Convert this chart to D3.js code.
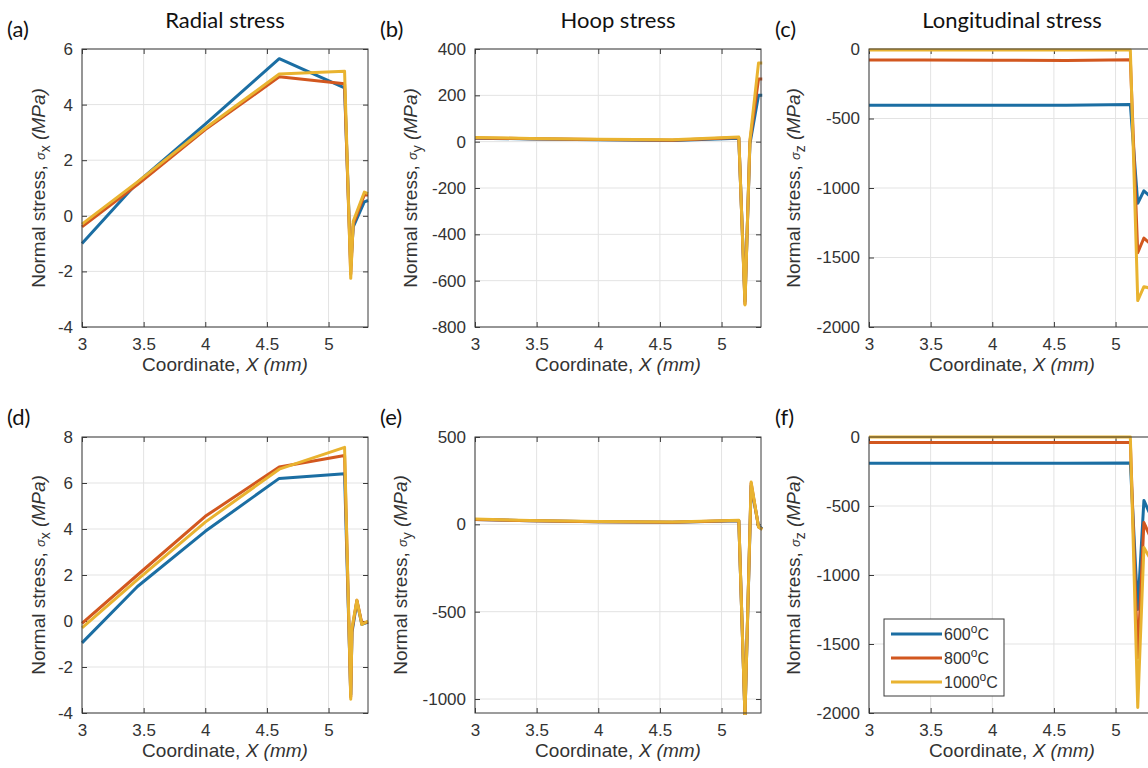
<!DOCTYPE html>
<html>
<head>
<meta charset="utf-8">
<script src="https://cdn.jsdelivr.net/npm/d3@7"></script>
<style>
body { margin: 0; background: #fff; }
svg { display: block; }
</style>
</head>
<body>
<div class="main"></div>
<script>
var xTicks = [3, 3.5, 4, 4.5, 5];
var tempLabels = ["600", "800", "1000"];

// (a) radial stress, case 1
var xA = [3, 3.45, 4.0, 4.6, 5.13, 5.18, 5.2, 5.29, 5.32];
var a600 = [-1.0, 1.2, 3.3, 5.65, 4.6, -1.8, -0.4, 0.5, 0.55];
var a800 = [-0.4, 1.12, 3.1, 5.0, 4.75, -2.1, -0.3, 0.75, 0.75];
var a1000 = [-0.3, 1.22, 3.15, 5.1, 5.2, -2.25, -0.2, 0.85, 0.8];

// (b) hoop stress, case 1
var xB = [3, 3.45, 4.0, 4.6, 5.14, 5.19, 5.23, 5.30, 5.33];
var b600 = [15, 12, 8, 5, 15, -690, -10, 200, 200];
var b800 = [16, 13, 9, 6, 18, -700, 0, 270, 270];
var b1000 = [18, 14, 10, 8, 20, -705, 5, 340, 340];

// (c) longitudinal stress, case 1
var xC = [3, 3.45, 4.0, 4.6, 5.12, 5.18, 5.23, 5.28, 5.32];
var c600 = [-405, -405, -405, -405, -400, -1110, -1020, -1060, -1050];
var c800 = [-80, -80, -81, -82, -78, -1465, -1360, -1400, -1390];
var c1000 = [-8, -8, -8, -8, -8, -1810, -1710, -1720, -1715];

// (d) radial stress, case 2
var xD = [3, 3.45, 4.0, 4.6, 5.13, 5.18, 5.19, 5.23, 5.27, 5.32];
var d600 = [-0.95, 1.5, 3.9, 6.2, 6.4, -3.2, -0.5, 0.85, -0.15, -0.05];
var d800 = [-0.1, 2.0, 4.55, 6.7, 7.2, -3.3, -0.4, 0.9, -0.1, -0.05];
var d1000 = [-0.3, 1.8, 4.3, 6.6, 7.55, -3.4, -0.3, 0.9, -0.15, 0.0];

// (e) hoop stress, case 2
var xE = [3, 3.45, 4.0, 4.6, 5.14, 5.19, 5.24, 5.30, 5.33];
var e600 = [28, 20, 15, 12, 20, -1100, 220, -10, -25];
var e800 = [28, 20, 15, 12, 22, -1100, 235, -15, -28];
var e1000 = [30, 22, 16, 14, 24, -1100, 242, -15, -30];

// (f) longitudinal stress, case 2
var xF = [3, 3.45, 4.0, 4.6, 5.12, 5.18, 5.23, 5.28, 5.32];
var f600 = [-190, -190, -190, -190, -188, -1250, -460, -560, -600];
var f800 = [-40, -40, -40, -40, -40, -1600, -620, -720, -760];
var f1000 = [0, 0, 0, 0, 0, -1960, -800, -880, -900];

var colors = ["#1b6ea3", "#d2571f", "#e9b330"];
var plotW = 286;

var panels = [
    { tag: "(a)", title: "Radial stress", left: 82, top: 49, h: 278, yDomain: [-4, 6], yTicks: [-4, -2, 0, 2, 4, 6], sub: "x", labelX: 45, tagX: 7, xs: xA, series: [a600, a800, a1000] },
    { tag: "(b)", title: "Hoop stress", left: 475, top: 49, h: 278, yDomain: [-800, 400], yTicks: [-800, -600, -400, -200, 0, 200, 400], sub: "y", labelX: 417, tagX: 380, xs: xB, series: [b600, b800, b1000] },
    { tag: "(c)", title: "Longitudinal stress", left: 869, top: 49, h: 278, yDomain: [-2000, 0], yTicks: [-2000, -1500, -1000, -500, 0], sub: "z", labelX: 800, tagX: 775, xs: xC, series: [c600, c800, c1000] },
    { tag: "(d)", title: "", left: 82, top: 437, h: 276, yDomain: [-4, 8], yTicks: [-4, -2, 0, 2, 4, 6, 8], sub: "x", labelX: 45, tagX: 7, xs: xD, series: [d600, d800, d1000] },
    { tag: "(e)", title: "", left: 475, top: 437, h: 276, yDomain: [-1080, 500], yTicks: [-1000, -500, 0, 500], sub: "y", labelX: 407, tagX: 380, xs: xE, series: [e600, e800, e1000] },
    { tag: "(f)", title: "", left: 869, top: 437, h: 276, yDomain: [-2000, 0], yTicks: [-2000, -1500, -1000, -500, 0], sub: "z", labelX: 800, tagX: 775, xs: xF, series: [f600, f800, f1000], legend: true }
];

var svg = d3.select(".main")
    .append("svg")
        .attr("width", 1148)
        .attr("height", 768);

var axisFont = "'Liberation Sans', Arial, sans-serif";
var titleFont = "Lato, 'Open Sans', sans-serif";
var fmt = d => String(d);

panels.forEach((p, k) => {
    let x = d3.scaleLinear().domain([3, 5.32]).range([p.left, p.left + plotW]);
    let y = d3.scaleLinear().domain(p.yDomain).range([p.top + p.h, p.top]);
    let g = svg.append("g");

    // grid
    g.selectAll(".gx").data(xTicks).enter().append("line")
        .attr("x1", d => x(d)).attr("x2", d => x(d))
        .attr("y1", p.top).attr("y2", p.top + p.h)
        .attr("stroke", "#e3e3e3").attr("stroke-width", 1);
    g.selectAll(".gy").data(p.yTicks).enter().append("line")
        .attr("x1", p.left).attr("x2", p.left + plotW)
        .attr("y1", d => y(d)).attr("y2", d => y(d))
        .attr("stroke", "#e3e3e3").attr("stroke-width", 1);

    // axes, ticks pointing inward
    let bottom = g.append("g")
        .attr("transform", "translate(0," + (p.top + p.h) + ")")
        .call(d3.axisBottom(x).tickValues(xTicks).tickFormat(fmt).tickSizeInner(-5).tickSizeOuter(0).tickPadding(11));
    let top = g.append("g")
        .attr("transform", "translate(0," + p.top + ")")
        .call(d3.axisTop(x).tickValues(xTicks).tickFormat("").tickSizeInner(-5).tickSizeOuter(0));
    let left = g.append("g")
        .attr("transform", "translate(" + p.left + ",0)")
        .call(d3.axisLeft(y).tickValues(p.yTicks).tickFormat(fmt).tickSizeInner(-5).tickSizeOuter(0).tickPadding(9));
    let right = g.append("g")
        .attr("transform", "translate(" + (p.left + plotW) + ",0)")
        .call(d3.axisRight(y).tickValues(p.yTicks).tickFormat("").tickSizeInner(-5).tickSizeOuter(0));
    [bottom, top, left, right].forEach(a => {
        a.select(".domain").remove();
        a.selectAll(".tick line").attr("stroke", "#3a3a3a");
        a.selectAll("text").attr("fill", "#333").style("font-family", axisFont).style("font-size", "17px");
    });

    // lines
    let clipId = "clip" + k;
    svg.append("clipPath").attr("id", clipId)
        .append("rect")
            .attr("x", p.left - 2).attr("y", p.top - 2)
            .attr("width", plotW + 4).attr("height", p.h + 4);
    let line = d3.line().x((d, i) => x(p.xs[i])).y(d => y(d));
    g.append("g").attr("clip-path", "url(#" + clipId + ")")
        .selectAll("path")
        .data(p.series)
        .enter()
        .append("path")
            .attr("d", d => line(d))
            .attr("fill", "none")
            .attr("stroke", (d, i) => colors[i])
            .attr("stroke-width", 3)
            .attr("stroke-linejoin", "round");

    // box
    g.append("rect")
        .attr("x", p.left).attr("y", p.top)
        .attr("width", plotW).attr("height", p.h)
        .attr("fill", "none").attr("stroke", "#3a3a3a").attr("stroke-width", 1);

    // x label
    let xl = g.append("text")
        .attr("x", p.left + plotW / 2).attr("y", p.top + p.h + 44)
        .attr("text-anchor", "middle")
        .attr("fill", "#333")
        .style("font-family", axisFont).style("font-size", "19px");
    xl.append("tspan").text("Coordinate, ");
    xl.append("tspan").style("font-style", "italic").text("X (mm)");

    // y label
    let yl = g.append("text")
        .attr("transform", "translate(" + p.labelX + "," + (p.top + p.h / 2) + ") rotate(-90)")
        .attr("text-anchor", "middle")
        .attr("fill", "#333")
        .style("font-family", axisFont).style("font-size", "19px");
    yl.append("tspan").text("Normal stress, ");
    yl.append("tspan").style("font-style", "italic").style("font-size", "13px").text("\u03c3");
    yl.append("tspan").style("font-size", "14px").attr("dy", 5).text(p.sub);
    yl.append("tspan").style("font-style", "italic").attr("dy", -5).text("\u00a0(MPa)");

    // panel tag and title
    g.append("text")
        .attr("x", p.tagX).attr("y", p.top - 12)
        .attr("fill", "#111")
        .style("font-family", titleFont).style("font-size", "22px")
        .text(p.tag);
    if (p.title) {
        g.append("text")
            .attr("x", p.left + plotW / 2).attr("y", p.top - 21)
            .attr("text-anchor", "middle")
            .attr("fill", "#111")
            .style("font-family", titleFont).style("font-size", "22px")
            .text(p.title);
    }

    if (p.legend) {
        let lg = g.append("g").attr("transform", "translate(" + (p.left + 15) + "," + (p.top + 182) + ")");
        lg.append("rect")
            .attr("width", 120).attr("height", 77)
            .attr("fill", "#fff").attr("stroke", "#3a3a3a").attr("stroke-width", 1);
        let rows = lg.selectAll(".row").data(tempLabels).enter().append("g")
            .attr("transform", (d, i) => "translate(0," + (15 + i * 24) + ")");
        rows.append("line")
            .attr("x1", 7).attr("x2", 58)
            .attr("stroke", (d, i) => colors[i]).attr("stroke-width", 3);
        let t = rows.append("text")
            .attr("x", 60).attr("y", 6)
            .attr("fill", "#333")
            .style("font-family", axisFont).style("font-size", "16px");
        t.append("tspan").text(d => d);
        t.append("tspan").attr("dy", -7).style("font-size", "12px").text("o");
        t.append("tspan").attr("dy", 7).text("C");
    }
});
</script>
</body>
</html>
